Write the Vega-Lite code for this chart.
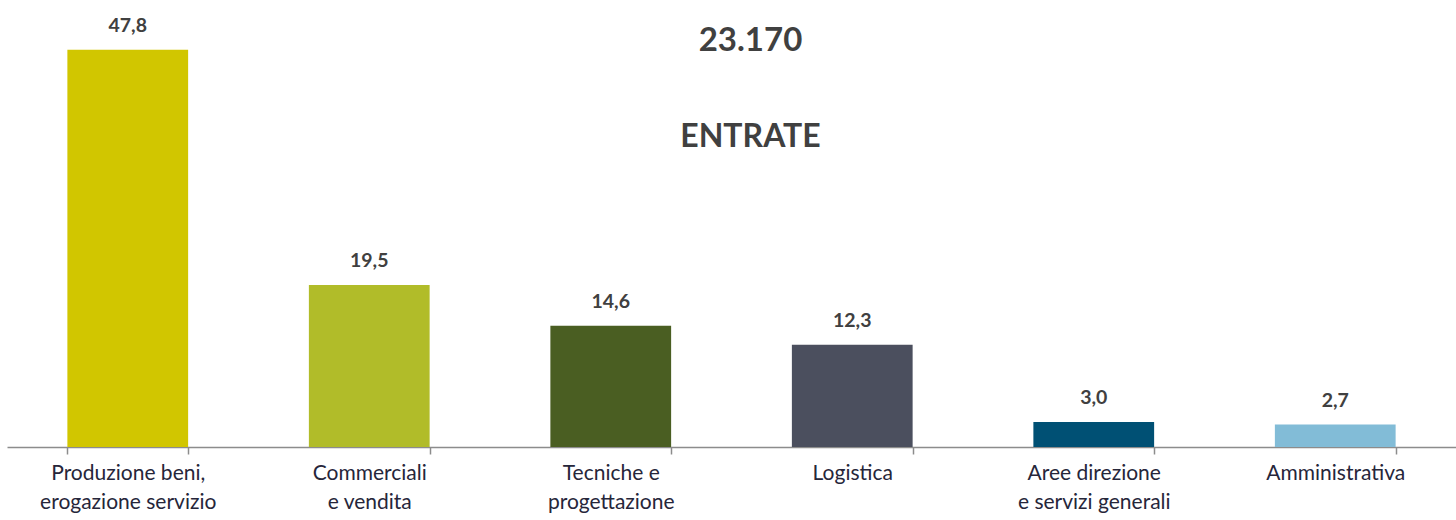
{
  "$schema": "https://vega.github.io/schema/vega-lite/v6.json",
  "width": 1449,
  "height": 447,
  "autosize": {"type": "none"},
  "padding": {"left": 7, "top": 0, "right": 0, "bottom": 73},
  "background": "white",
  "config": {
    "view": {"stroke": null},
    "locale": {"number": {"decimal": ",", "thousands": ".", "grouping": [3], "currency": ["€", ""]}}
  },
  "title": {
    "text": "23.170",
    "subtitle": "ENTRATE",
    "anchor": "middle",
    "frame": "group",
    "font": "Lato",
    "fontSize": 33,
    "fontWeight": "bold",
    "color": "#404040",
    "subtitleFont": "Lato",
    "subtitleFontSize": 32,
    "subtitleFontWeight": "bold",
    "subtitleColor": "#404040",
    "subtitlePadding": 64,
    "offset": -153,
    "dx": 19
  },
  "data": {
    "values": [
      {"cat": "Produzione beni,|erogazione servizio", "v": 47.8},
      {"cat": "Commerciali|e vendita", "v": 19.5},
      {"cat": "Tecniche e|progettazione", "v": 14.6},
      {"cat": "Logistica", "v": 12.3},
      {"cat": "Aree direzione|e servizi generali", "v": 3.0},
      {"cat": "Amministrativa", "v": 2.7}
    ]
  },
  "encoding": {
    "x": {
      "field": "cat",
      "type": "nominal",
      "sort": null,
      "scale": {"paddingInner": 0.5, "paddingOuter": 0.25},
      "axis": {
        "title": null,
        "labelAngle": 0,
        "labelExpr": "split(datum.label, '|')",
        "labelFont": "Lato",
        "labelFontSize": 21,
        "labelColor": "#26263a",
        "labelLineHeight": 29,
        "labelPadding": 8,
        "labelBaseline": "top",
        "domainColor": "#8c8c8c",
        "domainWidth": 1.5,
        "tickColor": "#8c8c8c",
        "tickWidth": 1.5,
        "tickSize": 7,
        "tickBand": "extent"
      }
    },
    "y": {
      "field": "v",
      "type": "quantitative",
      "scale": {"domain": [0, 53.8], "nice": false},
      "axis": null
    }
  },
  "layer": [
    {
      "mark": {"type": "bar"},
      "encoding": {
        "color": {
          "field": "cat",
          "type": "nominal",
          "sort": null,
          "scale": {"range": ["#d1c600", "#b1bc29", "#4a5e22", "#4b4f5e", "#005074", "#82bcd7"]},
          "legend": null
        }
      }
    },
    {
      "mark": {"type": "text", "font": "Lato", "fontSize": 19.5, "fontWeight": "bold", "color": "#404040", "baseline": "alphabetic", "dy": -18},
      "encoding": {"text": {"field": "v", "type": "quantitative", "format": ".1f"}}
    }
  ]
}
